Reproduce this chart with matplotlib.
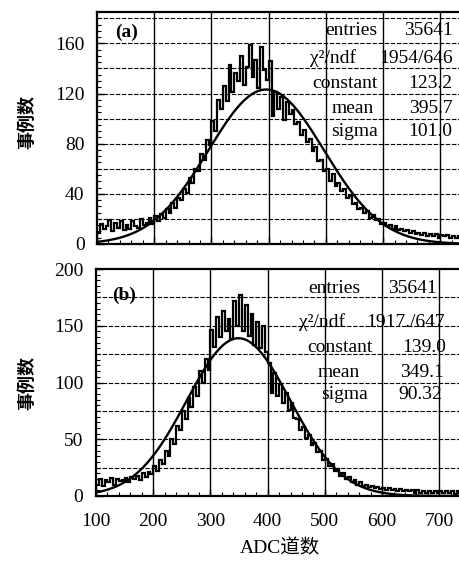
import matplotlib
matplotlib.use("Agg")
import matplotlib.pyplot as plt
import numpy as np

# histogram bins: 5 ADC channels wide, 100 .. 740
bin_lo = 100
bin_w = 5

# (a) counts per bin
counts_a = [9, 16, 12, 14, 19, 10, 17, 13, 18, 11,
            15, 12, 18, 14, 13, 20, 15, 17, 21, 16,
            22, 18, 24, 21, 28, 25, 33, 29, 37, 35,
            44, 41, 53, 49, 60, 58, 72, 67, 83, 79,
            98, 90, 115, 108, 126, 114, 143, 121, 136, 130,
            150, 127, 141, 159, 133, 147, 124, 157, 139, 131,
            146, 102, 121, 108, 117, 99, 113, 104, 107, 96,
            97, 87, 91, 81, 84, 74, 77, 66, 67, 58,
            60, 50, 56, 46, 49, 42, 44, 37, 38, 32,
            33, 28, 29, 25, 26, 21, 23, 19, 20, 16,
            17, 14, 15, 12, 14, 11, 12, 10, 11, 9,
            10, 8, 9, 7, 9, 6, 8, 6, 8, 5,
            7, 6, 7, 5, 6, 5, 6, 5]

# (b) counts per bin
counts_b = [10, 15, 9, 14, 12, 16, 10, 15, 13, 14,
            16, 12, 17, 15, 18, 14, 20, 17, 21, 19,
            26, 22, 32, 28, 40, 35, 50, 46, 62, 58,
            75, 68, 86, 78, 96, 88, 110, 100, 121, 111,
            146, 131, 158, 140, 163, 145, 156, 138, 172, 150,
            177, 145, 168, 141, 160, 133, 153, 130, 150, 127,
            117, 91, 108, 88, 99, 82, 91, 76, 82, 69,
            68, 58, 61, 51, 54, 45, 47, 39, 40, 32,
            33, 26, 28, 22, 24, 18, 20, 15, 17, 12,
            14, 10, 12, 9, 10, 8, 9, 7, 8, 6,
            7, 5, 7, 5, 6, 4, 6, 4, 5, 4,
            5, 3, 5, 3, 4, 3, 4, 3, 4, 3,
            4, 3, 4, 3, 4, 2, 4, 3]

# gaussian fit parameters shown in the stat boxes
fit_a = [123.2, 395.7, 101.0]
fit_b = [139.0, 349.1, 90.32]

stat_labels = ["entries", "χ²/ndf", "constant", "mean", "sigma"]
stat_a = ["35641", "1954/646", "123.2", "395.7", "101.0"]
stat_b = ["35641", "1917./647", "139.0", "349.1", "90.32"]

plt.rcParams["font.family"] = ["Liberation Serif", "Noto Sans CJK SC"]

fig = plt.figure(figsize=(4.59, 5.65), dpi=100)
W, H = 459.0, 565.0


def make_axes(left, top, bottom, xmax_px):
    return fig.add_axes([left / W, 1 - bottom / H, (xmax_px - left) / W, (bottom - top) / H])


def draw_panel(ax, counts, fit, ylim, ystep, ylab_step):
    edges = bin_lo + bin_w * np.arange(len(counts) + 1)
    ax.stairs(counts, edges, color="black", lw=1.6)
    x = np.linspace(100, 750, 600)
    ax.plot(x, fit[0] * np.exp(-0.5 * ((x - fit[1]) / fit[2]) ** 2), color="black", lw=1.7)
    ax.set_xlim(100, 750)
    ax.set_ylim(*ylim)
    for v in range(200, 800, 100):
        ax.axvline(v, color="black", lw=1.0, zorder=0)
    for v in np.arange(ystep, ylim[1], ystep):
        ax.axhline(v, color="black", lw=0.8, ls=(0, (4, 1.5)), zorder=0)
    ax.set_yticks(np.arange(0, ylim[1] + 1, ylab_step))
    ax.set_yticks(np.arange(0, ylim[1], 5), minor=True)
    ax.set_xticks(range(100, 800, 100))
    ax.set_xticks(range(100, 760, 20), minor=True)
    ax.tick_params(which="both", direction="in", top=False, right=False)
    ax.tick_params(which="major", length=5, width=1.0, labelsize=14, pad=9)
    ax.tick_params(which="minor", length=3, width=0.8)
    for s in ax.spines.values():
        s.set_linewidth(1.6)


ax1 = make_axes(97, 12, 244, 469)
draw_panel(ax1, counts_a, fit_a, (0, 185), 20, 40)
ax1.tick_params(labelbottom=False)
ax1.text(151, 169, "(a)", fontsize=14, ha="center", va="center", fontweight="bold")
rows_a = [170, 148, 128, 108, 90]
lab_x_a = [590, 553, 590, 583, 590]
for lab, val, y, lx in zip(stat_labels, stat_a, rows_a, lab_x_a):
    ax1.text(lx, y, lab, fontsize=14, ha="right", va="center")
    ax1.text(721, y, val, fontsize=14, ha="right", va="center")

ax2 = make_axes(96, 269, 496, 468)
draw_panel(ax2, counts_b, fit_b, (0, 200), 25, 50)
ax2.text(149, 177, "(b)", fontsize=14, ha="center", va="center", fontweight="bold")
rows_b = [183, 153, 131, 109, 89]
lab_x_b = [517, 495, 527, 525, 535]
val_x_b = [653, 640, 674, 670, 667]
for lab, val, y, lx, vx in zip(stat_labels, stat_b, rows_b, lab_x_b, val_x_b):
    ax2.text(lx, y, lab, fontsize=14, ha="center", va="center")
    ax2.text(vx, y, val, fontsize=14, ha="center", va="center")
ax2.tick_params(axis="x", pad=12)

for yc in (122, 383):
    fig.text(27 / W, 1 - yc / H, "事例数", rotation=90, ha="center", va="center",
             fontsize=13, fontweight="bold", family=["Noto Sans CJK SC"])
fig.text(280 / W, 1 - 548 / H, "ADC道数", ha="center", va="center", fontsize=14)

fig.savefig("out.png", dpi=100)
